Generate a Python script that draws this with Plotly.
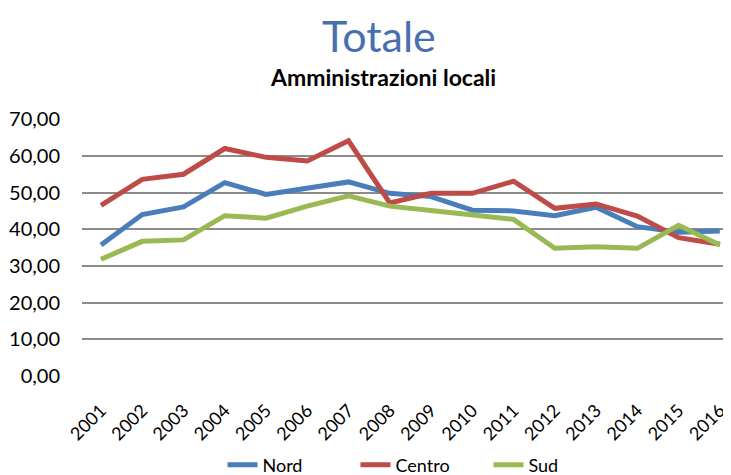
import plotly.graph_objects as go

years = [str(y) for y in range(2001, 2017)]
nord = [35.7, 44.0, 46.1, 52.7, 49.5, 51.2, 52.9, 49.8, 48.9, 45.2, 45.0, 43.7, 46.0, 40.7, 39.2, 39.5]
centro = [46.5, 53.6, 55.0, 62.0, 59.6, 58.6, 64.1, 47.2, 49.8, 49.8, 53.1, 45.7, 46.9, 43.6, 37.7, 35.9]
sud = [31.8, 36.7, 37.1, 43.7, 43.0, 46.3, 49.1, 46.3, 45.1, 44.0, 42.7, 34.8, 35.2, 34.8, 41.1, 35.7]
y_ticks = [0, 10, 20, 30, 40, 50, 60, 70]
y_tick_labels = ["0,00", "10,00", "20,00", "30,00", "40,00", "50,00", "60,00", "70,00"]

FONT = "Lato, Open Sans, sans-serif"
OFF = 8  # default page body margin
W, H = 731 - OFF, 475 - OFF
L, R, T, B = 82 - OFF, 0, 119 - OFF, 475 - 376
PW, PH = W - L - R, H - T - B

def px_x(x):
    return (x - OFF - L) / PW

def px_y(y):
    return (H - B - (y - OFF)) / PH

fig = go.Figure()
for name, vals, col in [("Nord", nord, "#4A7EBB"), ("Centro", centro, "#BE4B48"), ("Sud", sud, "#98B954")]:
    fig.add_trace(go.Scatter(x=list(range(len(years))), y=vals, name=name, mode="lines",
                             line=dict(color=col, width=5)))

fig.update_layout(
    width=W, height=H,
    margin=dict(l=L, r=R, t=T, b=B, autoexpand=False),
    paper_bgcolor="white", plot_bgcolor="white",
    font=dict(family=FONT, color="black", size=16),
    showlegend=True,
    legend=dict(orientation="h", x=px_x(422), xanchor="center", y=px_y(465), yanchor="middle",
                font=dict(size=18, family=FONT), tracegroupgap=0, entrywidth=88,
                entrywidthmode="pixels"),
)
fig.add_annotation(text="Totale", xref="paper", yref="paper", x=px_x(379), y=px_y(35),
                   showarrow=False, font=dict(size=43, color="#4A6FAE", family=FONT), yanchor="middle")
fig.add_annotation(text="<b>Amministrazioni locali</b>", xref="paper", yref="paper", x=px_x(383),
                   y=px_y(77), showarrow=False, font=dict(size=23, color="black", family=FONT),
                   yanchor="middle")
fig.update_xaxes(tickmode="array", tickvals=list(range(len(years))), ticktext=years,
                 range=[-0.46, 15.27], tickangle=-45, showgrid=False, zeroline=False,
                 showline=False, ticks="outside", ticklen=16, tickcolor="rgba(0,0,0,0)",
                 tickfont=dict(size=18), automargin=False)
fig.update_yaxes(range=[0, 70.05], tickvals=y_ticks, ticktext=y_tick_labels, showgrid=True,
                 gridcolor="#8C8C8C", gridwidth=2, zeroline=False, showline=False,
                 ticks="outside", ticklen=17, tickcolor="rgba(0,0,0,0)",
                 tickfont=dict(size=20), automargin=False)
fig.write_html("out.html")
